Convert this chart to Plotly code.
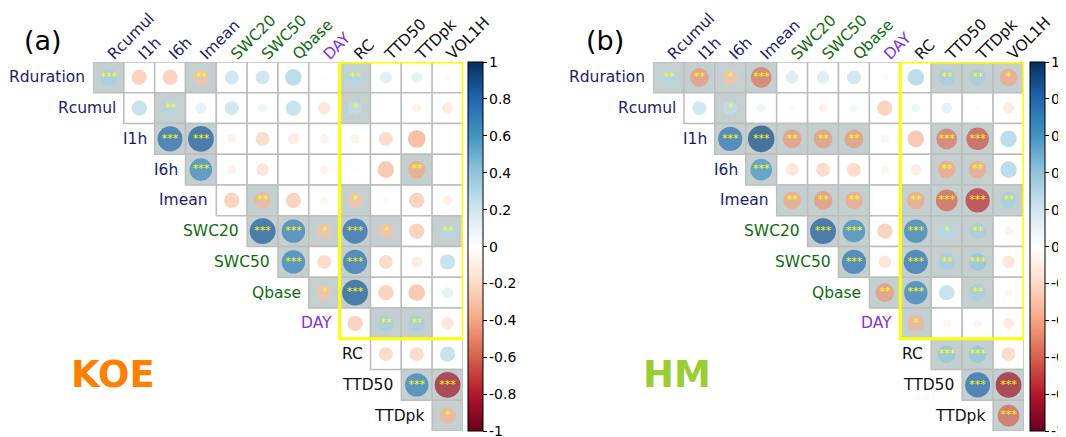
import plotly.graph_objects as go
import numpy as np

variables = ["Rduration", "Rcumul", "I1h", "I6h", "Imean", "SWC20", "SWC50",
             "Qbase", "DAY", "RC", "TTD50", "TTDpk", "VOL1H"]
label_colors = ["#1c1c6e"] * 5 + ["#0f6b0f"] * 3 + ["#8330d6"] + ["#111111"] * 4

# upper triangle rows: row i holds correlations with variables i+1 .. 12
koe_r = [
    [0.35, -0.30, -0.30, -0.30, 0.25, 0.25, 0.35, -0.03, 0.30, 0.18, 0.15, -0.05],
    [0.30, 0.30, 0.15, 0.25, 0.10, 0.30, -0.20, 0.25, 0.01, -0.10, -0.15],
    [0.80, 0.85, -0.10, -0.25, -0.15, -0.10, -0.10, -0.25, -0.40, -0.01],
    [0.65, -0.10, -0.20, -0.02, -0.10, -0.03, -0.35, -0.40, 0.02],
    [-0.30, -0.35, -0.30, -0.08, -0.30, -0.05, -0.30, -0.12],
    [0.85, 0.70, -0.30, 0.80, -0.30, -0.30, 0.30],
    [0.70, -0.25, 0.75, -0.25, -0.15, 0.30],
    [-0.30, 0.85, -0.30, -0.35, 0.15],
    [-0.30, 0.35, 0.35, -0.20],
    [-0.25, -0.25, 0.30],
    [0.70, -0.85],
    [-0.35],
]
koe_sig = [
    ["***", "", "", "**", "", "", "", "", "**", "", "", ""],
    ["", "**", "", "", "", "", "", "*", "", "", ""],
    ["***", "***", "", "", "", "", "", "", "", ""],
    ["***", "", "", "", "", "", "", "**", ""],
    ["", "**", "", "", "*", "", "", ""],
    ["***", "***", "*", "***", "*", "", "**"],
    ["***", "", "***", "", "", ""],
    ["*", "***", "", "", ""],
    ["", "**", "**", ""],
    ["", "", ""],
    ["***", "***"],
    ["*"],
]
hm_r = [
    [0.30, -0.45, -0.30, -0.55, 0.20, 0.20, 0.25, 0.05, 0.35, 0.35, 0.35, -0.40],
    [0.25, 0.25, 0.10, 0.05, -0.10, 0.08, -0.30, 0.10, 0.15, 0.03, -0.15],
    [0.75, 0.90, -0.45, -0.45, -0.45, -0.08, -0.35, -0.55, -0.65, 0.35],
    [0.60, -0.20, -0.25, -0.25, -0.08, -0.15, -0.40, -0.40, 0.35],
    [-0.40, -0.45, -0.40, 0.01, -0.40, -0.60, -0.75, 0.35],
    [0.85, 0.65, -0.30, 0.70, 0.30, 0.35, -0.10],
    [0.75, -0.20, 0.75, 0.35, 0.40, -0.20],
    [-0.45, 0.70, 0.30, 0.35, -0.08],
    [-0.35, -0.08, -0.08, -0.15],
    [0.40, 0.40, -0.25],
    [0.80, -0.85],
    [-0.60],
]
hm_sig = [
    ["**", "**", "*", "***", "", "", "", "", "", "**", "**", "*"],
    ["", "*", "", "", "", "", "", "", "", "", ""],
    ["***", "***", "**", "**", "**", "", "", "***", "***", ""],
    ["***", "", "", "", "", "", "**", "**", ""],
    ["**", "**", "**", "", "**", "***", "***", "**"],
    ["***", "***", "", "***", "*", "**", ""],
    ["***", "", "***", "**", "***", ""],
    ["**", "***", "", "**", ""],
    ["*", "", "", ""],
    ["***", "***", ""],
    ["***", "***"],
    ["***"],
]
panel_tags = ["(a)", "(b)"]
site_names = ["KOE", "HM"]
site_colors = ["#FF7F00", "#9ACD32"]
cbar_ticks = [1, 0.8, 0.6, 0.4, 0.2, 0, -0.2, -0.4, -0.6, -0.8, -1]

RDBU = [[0.0, "#67001F"], [0.1, "#B2182B"], [0.2, "#D6604D"], [0.3, "#F4A582"],
        [0.4, "#FDDBC7"], [0.5, "#FFFFFF"], [0.6, "#D1E5F0"], [0.7, "#92C5DE"],
        [0.8, "#4393C3"], [0.9, "#2166AC"], [1.0, "#053061"]]

# page body adds an 8px margin, so the figure is 8px smaller and offset
OFF = 8
W, H = 1066 - OFF, 437 - OFF
GRID_TOP, GRID_BOT = 62 - OFF, 431 - OFF
panel_x = [(93 - OFF, 463 - OFF), (653 - OFF, 1024 - OFF)]
cbar_x = [468 - OFF, 1030 - OFF]
CBAR_W = 15
tag_x = [43 - OFF, 605 - OFF]
tag_y = 40 - OFF
site_x = [113 - OFF, 677 - OFF]
site_y = 374 - OFF
SIG_FILL = "#c4d0d0"
BORDER = "#bdbdbd"

n = len(variables) - 1
fig = go.Figure()
shapes, annotations = [], []

for p, (rvals, sigs) in enumerate([(koe_r, koe_sig), (hm_r, hm_sig)]):
    xa = "x" if p == 0 else "x2"
    ya = "y" if p == 0 else "y2"
    xs, ys, cs, ss, txt = [], [], [], [], []
    for i, row in enumerate(rvals):
        for k, r in enumerate(row):
            j = i + k
            sig = sigs[i][k]
            shapes.append(dict(type="rect", xref=xa, yref=ya, x0=j - 0.5, x1=j + 0.5,
                               y0=i - 0.5, y1=i + 0.5, layer="below",
                               fillcolor=SIG_FILL if sig else "white",
                               line=dict(color=BORDER, width=1.5)))
            xs.append(j); ys.append(i); cs.append(r)
            ss.append(28 * np.sqrt(abs(r)))
            txt.append(sig)
    fig.add_trace(go.Scatter(
        x=xs, y=ys, xaxis=xa, yaxis=ya, mode="markers", hoverinfo="skip",
        marker=dict(size=ss, color=cs, colorscale=RDBU, cmin=-1, cmax=1,
                    line=dict(width=0),
                    colorbar=dict(x=cbar_x[p] / W, xanchor="left", xpad=0,
                                  y=1 - GRID_TOP / H, yanchor="top", ypad=0,
                                  lenmode="pixels", len=GRID_BOT - GRID_TOP,
                                  thicknessmode="pixels", thickness=CBAR_W,
                                  outlinewidth=1, outlinecolor="black",
                                  tickvals=cbar_ticks, showticklabels=False,
                                  ticks="outside", ticklen=4, tickcolor="black")),
        showlegend=False))
    fig.add_trace(go.Scatter(
        x=xs, y=ys, xaxis=xa, yaxis=ya, mode="text", text=txt, hoverinfo="skip",
        textposition="middle center",
        textfont=dict(color="#ffff00", size=11, family="DejaVu Sans"),
        showlegend=False))
    # colorbar tick labels placed next to the tick marks
    for t in cbar_ticks:
        ypx = GRID_TOP + (1 - t) / 2 * (GRID_BOT - GRID_TOP)
        annotations.append(dict(xref="paper", yref="paper",
                                x=(cbar_x[p] + CBAR_W + 5) / W, y=1 - ypx / H,
                                xanchor="left", yanchor="middle", showarrow=False,
                                text=str(t), borderpad=0,
                                font=dict(size=14, color="black",
                                          family="DejaVu Sans")))
    # yellow frame around response variables block
    ix_rc = variables.index("RC") - 1
    ix_day = variables.index("DAY")
    shapes.append(dict(type="rect", xref=xa, yref=ya, x0=ix_rc - 0.5, x1=n - 0.5,
                       y0=-0.5, y1=ix_day + 0.5, line=dict(color="#ffff00", width=3),
                       layer="above"))
    # row labels
    for i in range(n):
        annotations.append(dict(xref=xa, yref=ya, x=i - 0.5, y=i, xanchor="right",
                                yanchor="middle", showarrow=False, xshift=-6,
                                text=variables[i],
                                font=dict(size=15.5, color=label_colors[i],
                                          family="DejaVu Sans")))
    annotations.append(dict(xref="paper", yref="paper", x=tag_x[p] / W,
                            y=1 - tag_y / H, xanchor="center", yanchor="middle",
                            showarrow=False, text=panel_tags[p],
                            font=dict(size=27, color="black", family="DejaVu Sans")))
    annotations.append(dict(xref="paper", yref="paper",
                            x=site_x[p] / W, y=1 - site_y / H,
                            xanchor="center", yanchor="middle", showarrow=False,
                            text="<b>%s</b>" % site_names[p],
                            font=dict(size=37, color=site_colors[p],
                                      family="DejaVu Sans")))

ticktext = ['<span style="color:%s">%s</span>' % (c, v)
            for v, c in zip(variables[1:], label_colors[1:])]
ydom = [1 - GRID_BOT / H, 1 - GRID_TOP / H]
for p in range(2):
    sfx = "" if p == 0 else "2"
    x0p, x1p = panel_x[p]
    fig.update_layout(**{
        "xaxis" + sfx: dict(domain=[x0p / W, x1p / W], range=[-0.5, n - 0.5],
                            anchor="y" + sfx, side="top", tickmode="array",
                            tickvals=list(range(n)), ticktext=ticktext,
                            tickangle=-45, showgrid=False, zeroline=False,
                            showline=False, ticks="", automargin=False,
                            ticklabelstandoff=-5,
                            tickfont=dict(size=15.5, family="DejaVu Sans")),
        "yaxis" + sfx: dict(domain=ydom, range=[n - 0.5, -0.5], anchor="x" + sfx,
                            showgrid=False, zeroline=False, showline=False,
                            showticklabels=False, ticks="", automargin=False),
    })

fig.update_layout(width=W, height=H,
                  margin=dict(l=0, r=0, t=0, b=0, autoexpand=False),
                  paper_bgcolor="white", plot_bgcolor="white",
                  shapes=shapes, annotations=annotations,
                  font=dict(family="DejaVu Sans"))
fig.write_html("out.html")
